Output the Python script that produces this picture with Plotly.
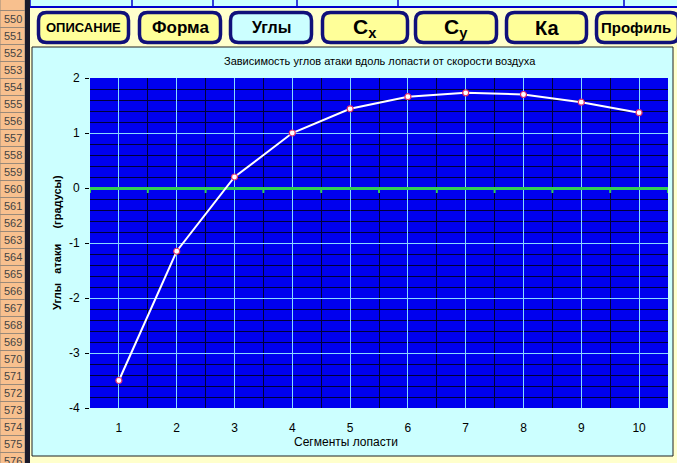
import plotly.graph_objects as go

# ---------------- data ----------------
segments = [1, 2, 3, 4, 5, 6, 7, 8, 9, 10]
angles = [-3.5, -1.15, 0.2, 1.0, 1.44, 1.66, 1.73, 1.70, 1.56, 1.37]
y_ticks = [-4, -3, -2, -1, 0, 1, 2]
y_tick_labels = ["-4", "-3", "-2", "-1", "0", "1", "2"]

chart_title = "Зависимость углов атаки вдоль лопасти от скорости воздуха"
x_title = "Сегменты лопасти"
y_title = "Углы\u00a0\u00a0\u00a0атаки\u00a0\u00a0\u00a0\u00a0\u00a0(градусы)"

button_labels = ["ОПИСАНИЕ", "Форма", "Углы", "C<sub>x</sub>", "C<sub>y</sub>", "Ка", "Профиль"]
button_left = [37, 138, 229, 321, 414, 505, 595]
button_right = [130, 222, 313, 409, 498, 588, 680]
button_font = [13, 17, 16, 21, 21, 20, 15]
button_fill = ["#ffff99", "#ffff99", "#ccffff", "#ffff99", "#ffff99", "#ffff99", "#ffff99"]

row_numbers = list(range(550, 577))

# ---------------- geometry helpers (pixel -> paper) ----------------
W, H = 677, 463
L, R, T, B = 90, 668, 78, 408


def px(x):
    return (x - L) / (R - L)


def py(y):
    return (B - y) / (B - T)


FONT = "Arial, Liberation Sans, sans-serif"

fig = go.Figure()
fig.add_trace(go.Scatter(
    x=segments, y=angles, mode="lines+markers",
    line=dict(color="white", width=2),
    marker=dict(size=6, color="white", line=dict(color="#e0306a", width=1.2)),
    hoverinfo="x+y", showlegend=False,
))

shapes = []
annotations = []

# top strip (previous spreadsheet row)
shapes.append(dict(type="rect", xref="paper", yref="paper", layer="below",
                   x0=px(30), x1=px(W), y0=py(0), y1=py(7),
                   fillcolor="#ccffff", line=dict(width=0)))
shapes.append(dict(type="line", xref="paper", yref="paper", layer="below",
                   x0=px(30), x1=px(W), y0=py(7), y1=py(7),
                   line=dict(color="#0000cc", width=2)))
for vx in [30, 132, 213, 297, 398, 624]:
    shapes.append(dict(type="line", xref="paper", yref="paper", layer="below",
                       x0=px(vx), x1=px(vx), y0=py(0), y1=py(7),
                       line=dict(color="#0000cc", width=1.5)))

# row headers
row_h = 17
first_top = 10.5
shapes.append(dict(type="rect", xref="paper", yref="paper", layer="below",
                   x0=px(0), x1=px(25), y0=py(-1), y1=py(first_top),
                   fillcolor="#f8c08e", line=dict(color="#9a8a7a", width=1)))
for i, rn in enumerate(row_numbers):
    top = first_top + i * row_h
    shapes.append(dict(type="rect", xref="paper", yref="paper", layer="below",
                       x0=px(0), x1=px(25), y0=py(top), y1=py(top + row_h),
                       fillcolor="#f8c08e", line=dict(color="#9a8a7a", width=1)))
    annotations.append(dict(xref="paper", yref="paper", x=px(12.5), y=py(top + row_h / 2),
                            text=str(rn), showarrow=False, xanchor="center", yanchor="middle",
                            font=dict(family=FONT, size=11, color="#444444")))

# dark separator bar
shapes.append(dict(type="rect", xref="paper", yref="paper", layer="below",
                   x0=px(25), x1=px(30), y0=py(0), y1=py(H),
                   fillcolor="#1a1a2a", line=dict(width=0)))


# buttons (rounded rectangles)
def rrect_path(x0, y0, x1, y1, r):
    pts = [
        ("M", [(x0 + r, y0)]),
        ("L", [(x1 - r, y0)]),
        ("Q", [(x1, y0), (x1, y0 + r)]),
        ("L", [(x1, y1 - r)]),
        ("Q", [(x1, y1), (x1 - r, y1)]),
        ("L", [(x0 + r, y1)]),
        ("Q", [(x0, y1), (x0, y1 - r)]),
        ("L", [(x0, y0 + r)]),
        ("Q", [(x0, y0), (x0 + r, y0)]),
    ]
    s = ""
    for cmd, ps in pts:
        s += cmd + " " + " ".join(f"{px(a):.5f},{py(b):.5f}" for a, b in ps) + " "
    return s + "Z"


for lab, xl, xr, fs, fc in zip(button_labels, button_left, button_right, button_font, button_fill):
    shapes.append(dict(type="path", xref="paper", yref="paper", layer="below",
                       path=rrect_path(xl + 1.5, 12.5, xr - 1.5, 42.5, 8),
                       fillcolor=fc, line=dict(color="#10107a", width=3.5)))
    annotations.append(dict(xref="paper", yref="paper", x=px((xl + min(xr, W)) / 2), y=py(28),
                            text=f"<b>{lab}</b>", showarrow=False, xanchor="center", yanchor="middle",
                            font=dict(family=FONT, size=fs, color="black")))

# chart area
shapes.append(dict(type="rect", xref="paper", yref="paper", layer="below",
                   x0=px(32), x1=px(673), y0=py(47), y1=py(456),
                   fillcolor="#ccffff", line=dict(color="#222222", width=1)))
# plot area fill
shapes.append(dict(type="rect", xref="paper", yref="paper", layer="below",
                   x0=0, x1=1, y0=0, y1=1,
                   fillcolor="#0000ee", line=dict(width=0)))

# green tick marks on the zero axis at category boundaries
for s in [segments[0] - 0.5] + [v + 0.5 for v in segments]:
    shapes.append(dict(type="line", xref="x", yref="y", ysizemode="pixel", yanchor=0,
                       x0=s, x1=s, y0=0, y1=-5,
                       line=dict(color="#33cc55", width=2)))

# texts
annotations.append(dict(xref="paper", yref="paper", x=px(380), y=py(61), text=chart_title,
                        showarrow=False, xanchor="center", yanchor="middle",
                        font=dict(family=FONT, size=11, color="black")))
annotations.append(dict(xref="paper", yref="paper", x=px(346), y=py(442), text=x_title,
                        showarrow=False, xanchor="center", yanchor="middle",
                        font=dict(family=FONT, size=12, color="black")))
annotations.append(dict(xref="paper", yref="paper", x=px(57), y=py(243), text=f"<b>{y_title}</b>",
                        showarrow=False, xanchor="center", yanchor="middle", textangle=-90,
                        font=dict(family=FONT, size=11, color="black")))

fig.update_layout(
    width=W, height=H,
    margin=dict(l=L, r=W - R, t=T, b=H - B),
    paper_bgcolor="#ffffcc",
    plot_bgcolor="rgba(0,0,0,0)",
    shapes=shapes,
    annotations=annotations,
    showlegend=False,
    font=dict(family=FONT, size=12, color="black"),
    xaxis=dict(
        range=[0.5, 10.5], tickmode="linear", tick0=1, dtick=1,
        showgrid=True, gridcolor="#88d8ff", gridwidth=1,
        zeroline=False, showline=False, ticks="",
        ticklabelstandoff=11,
        tickfont=dict(family=FONT, size=12, color="black"),
        minor=dict(tickmode="linear", tick0=0.5, dtick=1, showgrid=True,
                   gridcolor="#00003a", gridwidth=1, ticks=""),
        fixedrange=True,
    ),
    yaxis=dict(
        range=[-4, 2], tickmode="array", tickvals=y_ticks, ticktext=y_tick_labels,
        showgrid=True, gridcolor="#88d8ff", gridwidth=1,
        zeroline=True, zerolinecolor="#33cc55", zerolinewidth=2.5,
        showline=False, ticks="outside", ticklen=4, tickcolor="black",
        ticklabelstandoff=3,
        tickfont=dict(family=FONT, size=12, color="black"),
        minor=dict(tickmode="linear", tick0=0, dtick=0.2, showgrid=True,
                   gridcolor="#00003a", gridwidth=1, ticks=""),
        fixedrange=True,
    ),
)

fig.write_html(
    "out.html",
    config={"displayModeBar": False},
    post_script="document.body.style.margin='0';document.body.style.overflow='hidden';",
)
